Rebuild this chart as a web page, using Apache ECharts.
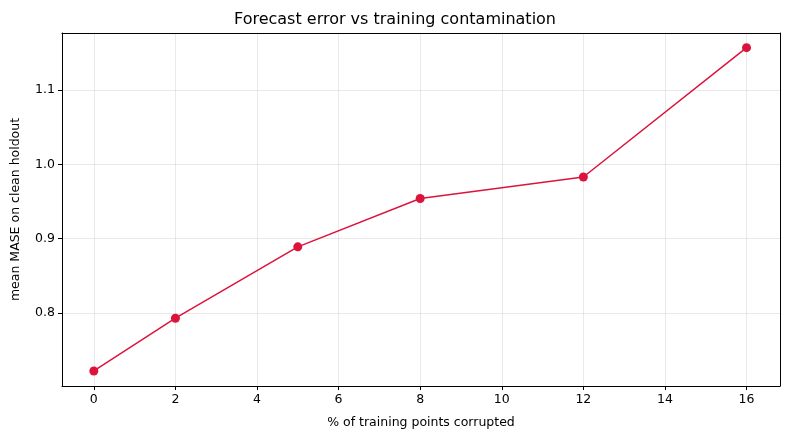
<!DOCTYPE html>
<html><head><meta charset="utf-8">
<script src="https://cdn.jsdelivr.net/npm/echarts@6/dist/echarts.min.js"></script>
<style>html,body{margin:0;padding:0;background:#fff}#c{width:790px;height:440px}</style>
</head><body><div id="c"></div>
<script>
const xValues = [0, 2, 5, 8, 12, 16];
const yValues = [0.722, 0.793, 0.889, 0.954, 0.983, 1.157];
const xTicks = [0, 2, 4, 6, 8, 10, 12, 14, 16];
const yTicks = [0.8, 0.9, 1.0, 1.1];
const font = 'DejaVu Sans';
const gridStyle = {color: 'rgba(176,176,176,0.35)', width: 0.8, type: 'solid'};
const markData = xTicks.map(v => ({xAxis: v})).concat(yTicks.map(v => ({yAxis: v})));
const chart = echarts.init(document.getElementById('c'));
const axisCommon = {
  axisLine: {show: true, onZero: false, lineStyle: {color: '#000', width: 1}},
  splitLine: {show: false}
};
chart.setOption({
  animation: false,
  title: {text: 'Forecast error vs training contamination', left: 'center', top: 7,
    textStyle: {fontFamily: font, fontSize: 16, fontWeight: 'normal', color: '#000'}},
  grid: {left: 62, right: 10, top: 33, bottom: 54},
  xAxis: [{
    type: 'value', min: -0.78, max: 16.82, ...axisCommon,
    name: '% of training points corrupted', nameLocation: 'middle', nameGap: 30,
    nameTextStyle: {fontFamily: font, fontSize: 12.5, color: '#000'},
    axisTick: {show: true, customValues: xTicks, length: 4, lineStyle: {color: '#000'}},
    axisLabel: {customValues: xTicks, fontFamily: font, fontSize: 12.5, color: '#000', margin: 7}
  }, {
    type: 'value', position: 'top', min: -0.78, max: 16.82, ...axisCommon,
    axisTick: {show: false}, axisLabel: {show: false}
  }],
  yAxis: [{
    type: 'value', min: 0.7018, max: 1.1767, ...axisCommon,
    name: 'mean MASE on clean holdout', nameLocation: 'middle', nameGap: 40,
    nameTextStyle: {fontFamily: font, fontSize: 12.5, color: '#000'},
    axisTick: {show: true, customValues: yTicks, length: 4, lineStyle: {color: '#000'}},
    axisLabel: {customValues: yTicks, fontFamily: font, fontSize: 12.5, color: '#000', margin: 7,
      formatter: v => v.toFixed(1)}
  }, {
    type: 'value', position: 'right', min: 0.7018, max: 1.1767, ...axisCommon,
    axisTick: {show: false}, axisLabel: {show: false}
  }],
  series: [{
    type: 'line',
    data: xValues.map((x, i) => [x, yValues[i]]),
    symbol: 'circle', symbolSize: 9,
    lineStyle: {color: '#dc143c', width: 1.5},
    itemStyle: {color: '#dc143c'},
    markLine: {silent: true, symbol: 'none', label: {show: false}, lineStyle: gridStyle,
      emphasis: {disabled: true}, data: markData, z: 0}
  }]
});
</script></body></html>
